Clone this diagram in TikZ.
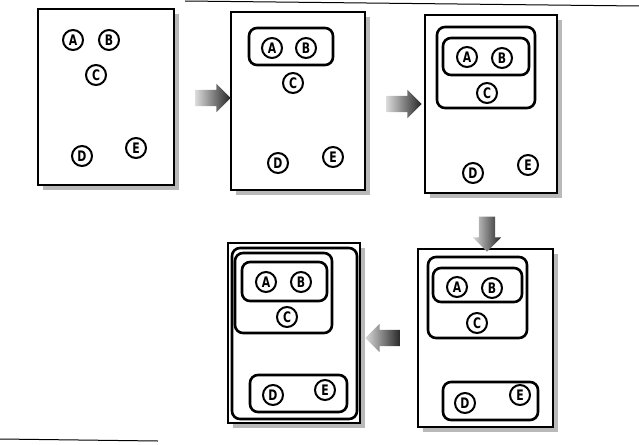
\documentclass[tikz,border=0pt]{standalone}
\usepackage{fontspec}
\usepackage{tikz}
\usetikzlibrary{shapes.arrows, shadows}
\newfontfamily\ballfont{DejaVu Sans}[FakeStretch=0.75]
\tikzstyle{page} = [draw, line width=2pt, fill=white, inner sep=0pt,
   drop shadow={shadow xshift=5pt, shadow yshift=-5pt, fill=black!55}]
\tikzstyle{ball} = [draw, circle, line width=2pt, minimum size=20pt, inner sep=0pt,
   font=\ballfont\bfseries\fontsize{14.5}{14.5}\selectfont]
\tikzstyle{group} = [draw, line width=2.6pt, rounded corners=8pt]
\tikzstyle{fatArrow} = [single arrow, minimum height=35pt, inner xsep=0pt, inner ysep=8pt,
   single arrow head extend=6pt, left color=black!15, right color=black!85]

\begin{document}
\begin{tikzpicture}[x=1pt, y=-1pt]
  \useasboundingbox (0,0) rectangle (639,444);
  % scan edges
  \draw[line width=1pt] (185,1) -- (639,6);
  \draw[line width=1pt] (0,439) -- (158,441);

  % pages
  \node[page, minimum width=136pt, minimum height=176pt] (p1) at (106,97) {};
  \node[page, minimum width=134pt, minimum height=178pt] (p2) at (298,101) {};
  \node[page, minimum width=132pt, minimum height=178pt] (p3) at (491,104) {};
  \node[page, minimum width=135pt, minimum height=178pt] (p4) at (485.5,338) {};
  \node[page, minimum width=132pt, minimum height=180pt] (p5) at (294,333) {};

  % step 1
  \node[ball] (a1) at (73,40) {A};
  \node[ball] (b1) at (109,40) {B};
  \node[ball] (c1) at (96,75) {C};
  \node[ball] (d1) at (82,156) {D};
  \node[ball] (e1) at (136,148) {E};

  % step 2
  \draw[group] (249,28) rectangle (333,65);
  \node[ball] (a2) at (272,48) {A};
  \node[ball] (b2) at (306,48) {B};
  \node[ball] (c2) at (293,83) {C};
  \node[ball] (d2) at (278,163) {D};
  \node[ball] (e2) at (333,157) {E};

  % step 3
  \draw[group] (437,27) rectangle (535,108);
  \draw[group] (443,38) rectangle (529,75);
  \node[ball] (a3) at (467,57) {A};
  \node[ball] (b3) at (502,58) {B};
  \node[ball] (c3) at (487,93) {C};
  \node[ball] (d3) at (473,173) {D};
  \node[ball] (e3) at (528,165) {E};

  % step 4
  \draw[group] (428,257) rectangle (527,338);
  \draw[group] (433,268) rectangle (522,302);
  \draw[group] (443,382) rectangle (538,420);
  \node[ball] (a4) at (457,287) {A};
  \node[ball] (b4) at (492,288) {B};
  \node[ball] (c4) at (477,323) {C};
  \node[ball] (d4) at (465,403) {D};
  \node[ball] (e4) at (520,395) {E};

  % step 5
  \draw[group] (232,248) rectangle (357,419);
  \draw[group] (235,253) rectangle (332,333);
  \draw[group] (242,262) rectangle (327,301);
  \draw[group] (250,375) rectangle (347,412);
  \node[ball] (a5) at (266,282) {A};
  \node[ball] (b5) at (301,282) {B};
  \node[ball] (c5) at (287,317) {C};
  \node[ball] (d5) at (273,395) {D};
  \node[ball] (e5) at (325,390) {E};

  % arrows between steps
  \node[fatArrow] (s12) at (209,98) {};
  \node[fatArrow] (s23) at (400,104) {};
  \node[fatArrow, rotate=-90] (s34) at (487,230) {};
  \node[fatArrow, rotate=180] (s45) at (387,338) {};
\end{tikzpicture}
\end{document}
